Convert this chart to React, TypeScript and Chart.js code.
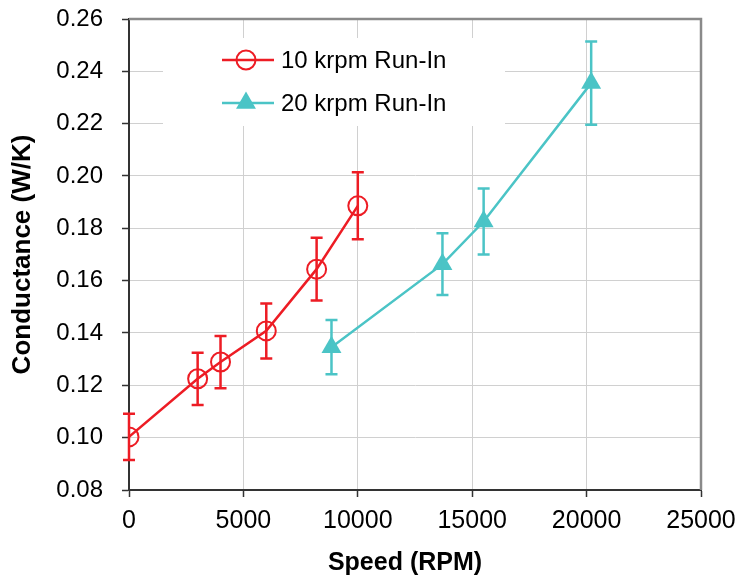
import React, { useEffect, useRef } from 'react';
import { Chart, registerables } from 'chart.js';

Chart.register(...registerables);

// ---- Data ----
const seriesLabels = ['10 krpm Run-In', '20 krpm Run-In'];
const xTitle = 'Speed (RPM)';
const yTitle = 'Conductance (W/K)';

const redSpeed = [0, 3000, 4000, 6000, 8200, 10000];
const redConductance = [0.1003, 0.1225, 0.1289, 0.1408, 0.1644, 0.1886];
const redError = [0.0088, 0.0100, 0.0100, 0.0105, 0.0120, 0.0128];

const cyanSpeed = [8850, 13700, 15500, 20200];
const cyanConductance = [0.1346, 0.1663, 0.1826, 0.2355];
const cyanError = [0.0104, 0.0118, 0.0126, 0.0159];

const xMin = 0;
const xMax = 25000;
const xStep = 5000;
const yMin = 0.08;
const yMax = 0.26;
const yStep = 0.02;

const RED = '#ED1C24';
const CYAN = '#4BC4C6';
const FONT = "'Liberation Sans', Arial, sans-serif";

const errorSets = [
  { xs: redSpeed, ys: redConductance, es: redError, color: RED },
  { xs: cyanSpeed, ys: cyanConductance, es: cyanError, color: CYAN },
];

const errorBarPlugin = {
  id: 'errorBars',
  afterDatasetsDraw(chart: any) {
    const { ctx, scales } = chart;
    const xs = scales.x;
    const ys = scales.y;
    ctx.save();
    errorSets.forEach((s) => {
      ctx.strokeStyle = s.color;
      ctx.lineWidth = 2.5;
      s.xs.forEach((xv, i) => {
        const px = xs.getPixelForValue(xv);
        const top = ys.getPixelForValue(s.ys[i] + s.es[i]);
        const bot = ys.getPixelForValue(s.ys[i] - s.es[i]);
        ctx.beginPath();
        ctx.moveTo(px, top);
        ctx.lineTo(px, bot);
        ctx.moveTo(px - 6, top);
        ctx.lineTo(px + 6, top);
        ctx.moveTo(px - 6, bot);
        ctx.lineTo(px + 6, bot);
        ctx.stroke();
      });
    });
    ctx.restore();
  },
};

const frameLegendPlugin = {
  id: 'frameLegend',
  beforeDatasetsDraw(chart: any) {
    const { ctx } = chart;
    ctx.save();
    ctx.fillStyle = '#ffffff';
    ctx.fillRect(163, 38, 342, 88);
    ctx.restore();
  },
  afterDraw(chart: any) {
    const { ctx, chartArea } = chart;
    ctx.save();
    // top & right frame
    ctx.strokeStyle = '#8a8a8a';
    ctx.lineWidth = 2.5;
    ctx.beginPath();
    ctx.moveTo(chartArea.left, chartArea.top);
    ctx.lineTo(chartArea.right, chartArea.top);
    ctx.lineTo(chartArea.right, chartArea.bottom);
    ctx.stroke();

    // x axis title
    ctx.fillStyle = '#000';
    ctx.font = `bold 25px ${FONT}`;
    ctx.textAlign = 'center';
    ctx.textBaseline = 'middle';
    ctx.fillText(xTitle, 405, 563);

    // legend
    const items = [
      { label: seriesLabels[0], color: RED, y: 60, marker: 'circle' },
      { label: seriesLabels[1], color: CYAN, y: 103, marker: 'triangle' },
    ];
    items.forEach((it) => {
      ctx.strokeStyle = it.color;
      ctx.lineWidth = 2.5;
      ctx.beginPath();
      ctx.moveTo(222, it.y);
      ctx.lineTo(274, it.y);
      ctx.stroke();
      const cx = 246;
      if (it.marker === 'circle') {
        ctx.lineWidth = 2;
        ctx.beginPath();
        ctx.arc(cx, it.y, 9.5, 0, Math.PI * 2);
        ctx.stroke();
      } else {
        const r = 11.5;
        ctx.fillStyle = it.color;
        ctx.beginPath();
        ctx.moveTo(cx, it.y - r);
        ctx.lineTo(cx + r * Math.sin((2 * Math.PI) / 3), it.y + r * 0.5);
        ctx.lineTo(cx - r * Math.sin((2 * Math.PI) / 3), it.y + r * 0.5);
        ctx.closePath();
        ctx.fill();
      }
      ctx.fillStyle = '#000';
      ctx.font = `24px ${FONT}`;
      ctx.textBaseline = 'middle';
      ctx.textAlign = 'left';
      ctx.fillText(it.label, 281, it.y + 1);
    });
    ctx.restore();
  },
};

const zeroPad = (s: any) => {
  s.paddingTop = 0;
  s.paddingBottom = 0;
  s.paddingLeft = 0;
  s.paddingRight = 0;
};

export default function App() {
  const ref = useRef<HTMLCanvasElement | null>(null);

  useEffect(() => {
    if (!ref.current) return;
    const chart = new Chart(ref.current, {
      type: 'scatter',
      data: {
        datasets: [
          {
            label: seriesLabels[0],
            data: redSpeed.map((x, i) => ({ x, y: redConductance[i] })),
            showLine: true,
            borderColor: RED,
            borderWidth: 2.5,
            backgroundColor: 'rgba(0,0,0,0)',
            pointStyle: 'circle',
            pointRadius: 9.5,
            pointBorderWidth: 2,
            pointBorderColor: RED,
            pointBackgroundColor: 'rgba(0,0,0,0)',
          },
          {
            label: seriesLabels[1],
            data: cyanSpeed.map((x, i) => ({ x, y: cyanConductance[i] })),
            showLine: true,
            borderColor: CYAN,
            borderWidth: 2.5,
            backgroundColor: CYAN,
            pointStyle: 'triangle',
            pointRadius: 11.5,
            pointBorderWidth: 0,
            pointBackgroundColor: CYAN,
          },
        ],
      },
      options: {
        responsive: false,
        animation: false,
        devicePixelRatio: 1,
        layout: { padding: { left: 0, right: 37, top: 19, bottom: 0 }, autoPadding: false },
        plugins: {
          legend: { display: false },
          tooltip: { enabled: false },
        },
        scales: {
          x: {
            type: 'linear',
            min: xMin,
            max: xMax,
            ticks: {
              stepSize: xStep,
              color: '#000',
              font: { family: FONT, size: 25 },
              padding: 9,
              maxRotation: 0,
              callback: (v: any) => String(v),
            },
            grid: {
              color: '#d0d0d0',
              lineWidth: 1,
              tickColor: '#333',
              tickLength: 7,
              tickWidth: 1.5,
            },
            border: { color: '#333', width: 2 },
            title: { display: false },
            afterFit: (s: any) => {
              s.height = 87;
              zeroPad(s);
            },
          },
          y: {
            type: 'linear',
            min: yMin,
            max: yMax,
            ticks: {
              stepSize: yStep,
              color: '#000',
              font: { family: FONT, size: 24 },
              padding: 19,
              callback: (v: any) => Number(v).toFixed(2),
            },
            grid: {
              color: '#d0d0d0',
              lineWidth: 1,
              tickColor: '#333',
              tickLength: 7,
              tickWidth: 1.5,
            },
            border: { color: '#333', width: 2 },
            title: {
              display: true,
              text: yTitle,
              color: '#000',
              font: { family: FONT, size: 26, weight: 'bold' },
              padding: { top: 7, bottom: 0 },
            },
            afterFit: (s: any) => {
              s.width = 129;
              zeroPad(s);
            },
          },
        },
      } as any,
      plugins: [errorBarPlugin, frameLegendPlugin],
    });
    return () => chart.destroy();
  }, []);

  return (
    <div style={{ position: 'absolute', left: 0, top: 0, width: 738, height: 577, background: '#fff' }}>
      <canvas ref={ref} width={738} height={577} style={{ width: 738, height: 577 }} />
    </div>
  );
}
